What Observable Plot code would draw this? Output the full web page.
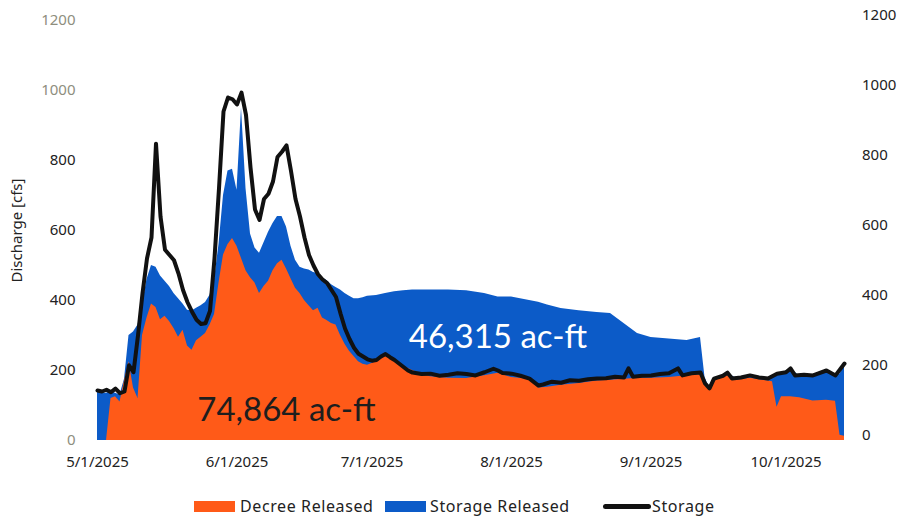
<!DOCTYPE html>
<html>
<head>
<meta charset="utf-8">
<script src="https://cdn.jsdelivr.net/npm/d3@7"></script>
<script src="https://cdn.jsdelivr.net/npm/@observablehq/plot@0.6"></script>
<style>
  html, body { margin: 0; padding: 0; background: #fff; }
  #chart { width: 903px; }
  .legend { position: relative; height: 32px; font-family: "Noto Sans", sans-serif; font-size: 16px; letter-spacing: 0.6px; color: #222; }
  .legend .sw { position: absolute; top: 16px; width: 41px; height: 11px; }
  .legend .ln { position: absolute; top: 19px; width: 48px; height: 5px; background: #111; border-radius: 2.5px; }
  .legend .tx { position: absolute; top: 10px; line-height: 22px; white-space: nowrap; }
</style>
</head>
<body>
<div id="chart"></div>
<script>
// ---- Data ----
// Release areas (cfs): dates, total release (top of blue), decree released (orange)
const areaDates = ["2025-05-01","2025-05-02","2025-05-03","2025-05-04","2025-05-05","2025-05-06","2025-05-07","2025-05-08","2025-05-09","2025-05-10",
  "2025-05-11","2025-05-12","2025-05-13","2025-05-14","2025-05-15","2025-05-16","2025-05-17","2025-05-18","2025-05-19","2025-05-20",
  "2025-05-21","2025-05-22","2025-05-23","2025-05-24","2025-05-25","2025-05-26","2025-05-27","2025-05-28","2025-05-29","2025-05-30",
  "2025-05-31","2025-06-01","2025-06-02","2025-06-03","2025-06-04","2025-06-05","2025-06-06","2025-06-07","2025-06-08","2025-06-09",
  "2025-06-10","2025-06-11","2025-06-12","2025-06-13","2025-06-14","2025-06-15","2025-06-16","2025-06-17","2025-06-18","2025-06-19",
  "2025-06-20","2025-06-21","2025-06-22","2025-06-23","2025-06-24","2025-06-25","2025-06-26","2025-06-27","2025-06-28","2025-06-29",
  "2025-06-30","2025-07-02","2025-07-04","2025-07-06","2025-07-08","2025-07-10","2025-07-14","2025-07-18","2025-07-22","2025-07-26",
  "2025-07-29","2025-08-01","2025-08-05","2025-08-07","2025-08-09","2025-08-12","2025-08-16","2025-08-20","2025-08-23","2025-08-26",
  "2025-08-29","2025-09-01","2025-09-05","2025-09-09","2025-09-12","2025-09-13","2025-09-14","2025-09-15","2025-09-18","2025-09-20",
  "2025-09-23","2025-09-27","2025-09-28","2025-09-29","2025-09-30","2025-10-02","2025-10-04","2025-10-07","2025-10-10","2025-10-12",
  "2025-10-13","2025-10-14"];
const totalRelease = [140,135,135,140,135,130,175,300,310,330,
  390,460,500,495,470,455,440,420,405,390,
  372,370,378,385,394,415,460,560,700,770,
  775,715,950,720,590,550,535,565,595,620,
  640,640,610,555,515,495,490,487,480,477,
  465,457,445,437,430,420,412,405,405,408,
  412,414,420,425,428,430,430,430,428,420,
  410,410,400,395,387,377,371,366,363,334,
  306,294,290,286,294,180,150,175,192,178,
  185,175,185,190,192,205,185,185,198,185,
  190,215];
const decreeReleased = [0,0,0,120,125,110,170,225,150,120,
  300,350,390,380,345,355,340,320,295,315,
  270,258,285,295,306,330,360,450,530,560,
  577,555,520,485,465,450,420,440,455,485,
  505,515,490,462,435,420,400,385,371,378,
  350,343,334,330,300,275,255,240,225,218,
  215,225,240,230,212,200,182,178,177,185,
  192,180,175,150,152,158,163,170,172,175,
  178,178,180,185,188,160,145,170,185,172,
  178,170,168,95,125,125,122,113,115,112,
  15,12];

// Storage line (right axis)
const storageDates = ["2025-05-01","2025-05-02","2025-05-03","2025-05-04","2025-05-05","2025-05-06","2025-05-07","2025-05-08","2025-05-09","2025-05-10",
  "2025-05-11","2025-05-12","2025-05-13","2025-05-14","2025-05-15","2025-05-16","2025-05-17","2025-05-18","2025-05-19","2025-05-20",
  "2025-05-21","2025-05-22","2025-05-23","2025-05-24","2025-05-25","2025-05-26","2025-05-27","2025-05-28","2025-05-29","2025-05-30",
  "2025-05-31","2025-06-01","2025-06-02","2025-06-03","2025-06-04","2025-06-05","2025-06-06","2025-06-07","2025-06-08","2025-06-09",
  "2025-06-10","2025-06-11","2025-06-12","2025-06-13","2025-06-14","2025-06-15","2025-06-16","2025-06-17","2025-06-18","2025-06-19",
  "2025-06-20","2025-06-21","2025-06-22","2025-06-23","2025-06-24","2025-06-25","2025-06-26","2025-06-27","2025-06-28","2025-06-29",
  "2025-06-30","2025-07-01","2025-07-02","2025-07-03","2025-07-04","2025-07-05","2025-07-06","2025-07-07","2025-07-08","2025-07-09",
  "2025-07-10","2025-07-12","2025-07-14","2025-07-16","2025-07-18","2025-07-20","2025-07-22","2025-07-24","2025-07-26","2025-07-28",
  "2025-07-29","2025-07-30","2025-08-01","2025-08-03","2025-08-05","2025-08-07","2025-08-08","2025-08-10","2025-08-12","2025-08-14",
  "2025-08-16","2025-08-18","2025-08-20","2025-08-22","2025-08-24","2025-08-26","2025-08-27","2025-08-28","2025-08-30","2025-09-01",
  "2025-09-03","2025-09-05","2025-09-07","2025-09-08","2025-09-10","2025-09-12","2025-09-13","2025-09-14","2025-09-15","2025-09-17",
  "2025-09-18","2025-09-19","2025-09-21","2025-09-23","2025-09-25","2025-09-27","2025-09-29","2025-10-01","2025-10-02","2025-10-03",
  "2025-10-05","2025-10-07","2025-10-10","2025-10-12","2025-10-14"];
const storage = [143,140,145,138,148,135,140,215,195,300,
  420,520,580,848,640,545,530,515,477,430,
  395,368,345,333,335,370,520,720,940,980,
  975,960,994,930,780,660,630,690,705,740,
  810,825,843,770,690,640,580,530,500,475,
  460,450,430,410,363,320,290,265,248,240,
  232,228,230,240,247,238,230,220,210,200,
  194,190,191,185,188,192,190,186,195,205,
  200,193,191,185,177,157,160,168,165,172,
  171,175,177,178,182,180,206,182,185,186,
  190,192,206,186,192,194,163,149,177,185,
  194,177,180,186,180,177,191,195,206,186,
  188,186,200,186,220];

// Axis ticks
const monthTicks = ["2025-05-01","2025-06-01","2025-07-01","2025-08-01","2025-09-01","2025-10-01"];
const yTicks = [0,200,400,600,800,1000,1200];

// Annotations
const annotations = [
  {date: "2025-07-29", value: 294, text: "46,315 ac-ft", color: "#ffffff"},
  {date: "2025-06-12", value: 86, text: "74,864 ac-ft", color: "#1e1e1e"}
];

// ---- Build rows ----
const parse = d3.utcParse("%Y-%m-%d");
const areaRows = areaDates.map((d, i) => ({date: parse(d), total: totalRelease[i], decree: decreeReleased[i]}));
const storageRows = storageDates.map((d, i) => ({date: parse(d), storage: storage[i]}));
const annRows = annotations.map(a => ({...a, date: parse(a.date)}));

const BLUE = "#0c5bc8";
const ORANGE = "#ff5a18";

const chart = Plot.plot({
  width: 903,
  height: 485,
  marginLeft: 97,
  marginRight: 54.5,
  marginTop: 20,
  marginBottom: 45,
  style: {fontFamily: "'Noto Sans', sans-serif", fontSize: "15px", color: "#222", background: "#fff"},
  x: {type: "utc", domain: [parse("2025-05-01"), parse("2025-10-15")]},
  y: {domain: [0, 1200]},
  marks: [
    Plot.areaY(areaRows, {x: "date", y: "total", fill: BLUE}),
    Plot.areaY(areaRows, {x: "date", y: "decree", fill: ORANGE}),
    Plot.lineY(storageRows, {x: "date", y: "storage", stroke: "#111", strokeWidth: 4, strokeLinejoin: "round"}),
    Plot.text(annRows, {x: "date", y: "value", text: "text", fill: "color", fontSize: 33, fontFamily: "Lato, 'Open Sans', sans-serif"}),
    Plot.axisX({ticks: monthTicks.map(parse), tickFormat: d3.utcFormat("%-m/%-d/%Y"), tickSize: 0, tickPadding: 16, label: null, fontSize: 15, fill: "#222"}),
    Plot.axisY({anchor: "left", ticks: yTicks, tickFormat: d => String(d), tickSize: 0, tickPadding: 22, fontSize: 15,
      fill: d => (d === 0 || d >= 1000) ? "#8e8e7e" : "#222",
      label: "Discharge [cfs]", labelAnchor: "center", labelArrow: "none", labelOffset: 86}),
    Plot.axisY({anchor: "right", ticks: yTicks, tickFormat: d => String(d), tickSize: 0, tickPadding: 13, fontSize: 15, fill: "#222", dy: -5, label: null})
  ]
});
document.getElementById("chart").appendChild(chart);

const legend = document.createElement("div");
legend.className = "legend";
legend.innerHTML = `
  <span class="sw" style="left:194px;background:${ORANGE}"></span><span class="tx" style="left:240px">Decree Released</span>
  <span class="sw" style="left:385px;background:${BLUE}"></span><span class="tx" style="left:430px">Storage Released</span>
  <span class="ln" style="left:603px"></span><span class="tx" style="left:652px">Storage</span>`;
document.getElementById("chart").appendChild(legend);
</script>
</body>
</html>
